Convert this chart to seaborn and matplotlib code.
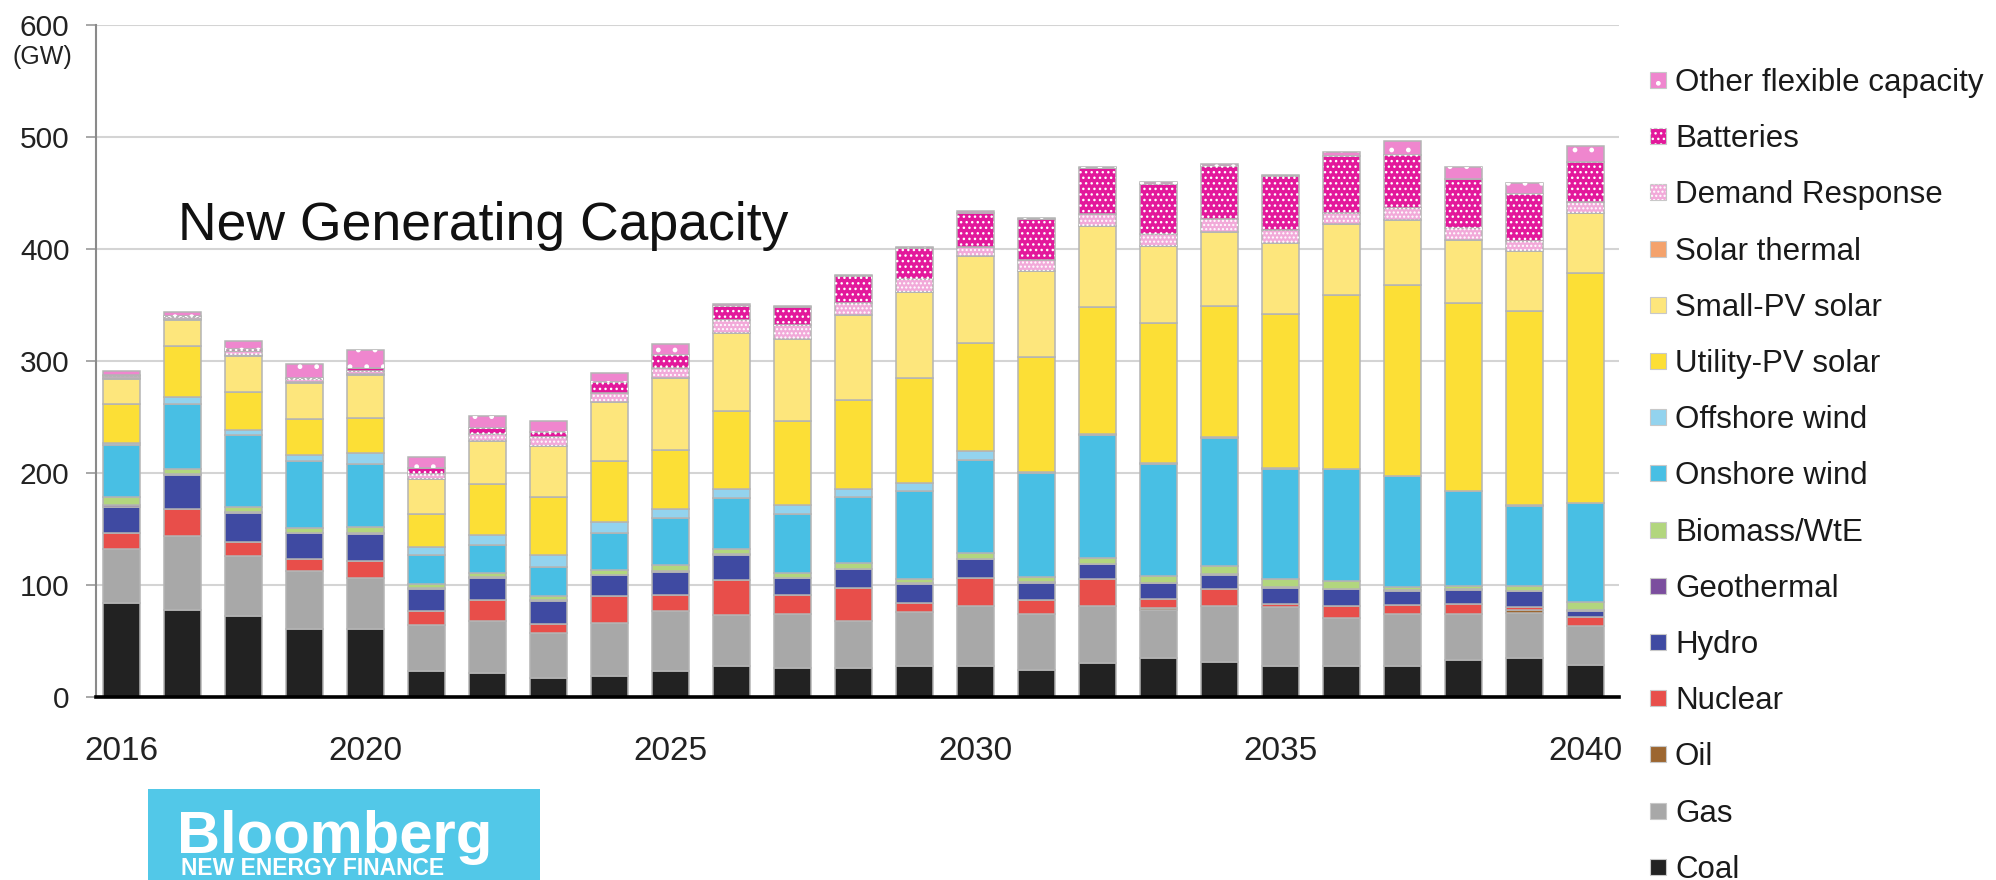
import matplotlib
matplotlib.use("Agg")
import numpy as np
import pandas as pd
import matplotlib.pyplot as plt
from matplotlib.patches import Rectangle
import seaborn as sns

# ---- data (GW of new capacity per year) ----
years = list(range(2016, 2041))
coal = [84, 78, 72, 61, 61, 23, 21, 17, 19, 23, 28, 25.5, 26, 28, 28, 24.5, 30, 35, 31.5, 28, 28, 28, 33, 35, 28.5]
gas = [48, 66, 54, 51.5, 45, 41, 46.5, 40, 47, 54, 45.5, 49, 42, 47.5, 53, 50, 51.5, 42.5, 50, 52.5, 42.5, 46.5, 41, 40, 35]
oil = [0, 0, 0, 0, 0, 0, 0, 0, 0, 0, 0, 0, 0, 0, 0, 0, 0, 2, 0, 0, 0, 0, 0, 3, 0]
nuclear = [14, 24, 12.5, 11, 15, 12.5, 19, 8, 24, 14, 31, 16.5, 29, 8, 25, 12, 24, 8, 14.5, 2.5, 10.5, 7.5, 9, 2.5, 7.5]
hydro = [24, 30, 26, 22.5, 24.5, 20, 20, 21, 18.5, 21, 22.5, 15, 17, 17.5, 17, 15.5, 13, 14, 13, 14.5, 15, 13, 12.5, 14, 6]
geothermal = [1, 1, 1, 0.5, 1, 1, 0.5, 0.5, 0.5, 0.5, 0.5, 0.5, 0.5, 0.5, 0.5, 0.5, 0.5, 0.5, 0.5, 0.5, 0.5, 0.5, 0.5, 0.5, 1]
biomass = [8, 5, 4, 4.5, 5, 3, 4, 4, 4, 5.5, 5, 4, 5.5, 4, 5.5, 5, 5.5, 6, 7.5, 7, 7.5, 3, 3.5, 4, 7]
onshore = [46, 58, 64, 59.5, 56.5, 26, 25, 26, 33.5, 42, 45.5, 52.5, 58.5, 78.5, 83, 92.5, 109, 100, 114.5, 99, 99.5, 98.5, 84, 71.5, 88]
offshore = [2, 6, 5, 5.5, 9.5, 7, 9, 10, 10, 7.5, 7.5, 8, 7.5, 7, 8, 1, 1.5, 0.5, 0.5, 0.5, 0.5, 0.5, 0.5, 0.5, 0.5]
utility_pv = [35, 45, 34, 32, 32, 30, 45.5, 52.5, 54, 53, 69.5, 75.5, 79, 93.5, 96, 103, 113.5, 125.5, 117.5, 137.5, 154.5, 170, 168, 174, 205.5]
small_pv = [22, 24, 32, 32.5, 38, 31, 38, 45, 53, 64, 70, 73.5, 76, 77, 77.5, 76, 72, 69, 65.5, 63, 64, 58, 56, 53, 53]
solar_thermal = [0.5, 0.5, 0.5, 0.5, 0.5, 0, 0, 0, 0, 0, 0, 0, 0, 0, 0, 0, 0, 0, 0, 0, 0, 0, 0, 0, 0]
demand_response = [2, 2, 4, 3, 3.5, 5, 6, 8, 8, 9, 11.5, 12, 11, 12, 8.5, 10, 10.5, 10, 12, 12, 10, 11, 11, 9.5, 10]
batteries = [1, 0.5, 2, 1, 2.5, 5, 6, 4.5, 10, 12, 13, 16.5, 24, 27.5, 30.5, 37, 41, 45, 47.5, 48.5, 50.5, 47, 43.5, 42, 36]
other_flex = [4, 4, 7, 12, 16, 9.5, 10, 10, 7.5, 10, 1, 0.5, 1, 1, 1.5, 1, 1.5, 1.5, 1, 1, 4, 13, 11, 9.5, 14]

tech_names = ["Coal", "Gas", "Oil", "Nuclear", "Hydro", "Geothermal", "Biomass/WtE",
              "Onshore wind", "Offshore wind", "Utility-PV solar", "Small-PV solar",
              "Solar thermal", "Demand Response", "Batteries", "Other flexible capacity"]
tech_colors = ["#222222", "#A8A8A8", "#9C6630", "#E84E4A", "#3F4AA2", "#7B4E9E", "#B2D67E",
               "#48BFE4", "#93D3EE", "#FCDF36", "#FDE67C", "#F4A26C", "#F2A9D9", "#E3189B", "#EF86CE"]
tech_hatch = {"Demand Response": "....", "Batteries": "...", "Other flexible capacity": "."}
tick_years = [2016, 2020, 2025, 2030, 2035, 2040]
y_ticks = [0, 100, 200, 300, 400, 500, 600]

capacity = pd.DataFrame(
    dict(zip(tech_names, [coal, gas, oil, nuclear, hydro, geothermal, biomass, onshore, offshore,
                          utility_pv, small_pv, solar_thermal, demand_response, batteries, other_flex])),
    index=years)

# ---- style ----
sns.set_theme(style="white")
plt.rcParams["font.family"] = ["Liberation Sans", "DejaVu Sans"]
plt.rcParams["hatch.linewidth"] = 1.0
palette = dict(zip(tech_names, sns.color_palette(tech_colors)))

W, H = 1996, 880
fig = plt.figure(figsize=(W / 100, H / 100), dpi=100)
ax = fig.add_axes([96 / W, 1 - 697 / H, (1619 - 96) / W, (697 - 25) / H])

x = np.arange(len(years))
bar_w = 0.6
bottom = np.zeros(len(years))
for name in tech_names:
    vals = capacity[name].to_numpy(dtype=float)
    ax.bar(x, vals, bottom=bottom, width=bar_w, color=palette[name],
           edgecolor="#B4B4B4", linewidth=1.1, zorder=3)
    if name in tech_hatch:
        ax.bar(x, vals, bottom=bottom, width=bar_w, fill=False, edgecolor="white",
               linewidth=0, hatch=tech_hatch[name], zorder=4)
    bottom += vals

# ---- axes ----
ax.set_xlim(-0.42, 24.55)
ax.set_ylim(0, 600)
ax.set_yticks(y_ticks)
ax.set_yticklabels([str(v) for v in y_ticks], fontsize=21.5, color="#222222")
ax.set_xticks([years.index(yr) for yr in tick_years])
ax.set_xticklabels([str(yr) for yr in tick_years], fontsize=24, color="#222222")
ax.tick_params(axis="y", length=7, width=1.2, color="#999999", pad=12, left=True)
ax.tick_params(axis="x", length=0, pad=28)
ax.grid(axis="y", color="#D4D4D4", linewidth=1.5, zorder=0)
ax.grid(axis="x", visible=False)
ax.set_axisbelow(True)
sns.despine(ax=ax, top=True, right=True)
ax.spines["left"].set_color("#8A8A8A")
ax.spines["left"].set_linewidth(1.5)
ax.spines["bottom"].set_color("black")
ax.spines["bottom"].set_linewidth(2.6)
ax.spines["bottom"].set_zorder(5)

fig.text(42 / W, 1 - 57 / H, "(GW)", fontsize=18, color="#222222", ha="center", va="center")
fig.text(178 / W, 1 - 240 / H, "New Generating Capacity", fontsize=38.5, color="#111111",
         ha="left", va="baseline")

# ---- legend (top entry = top of the stack) ----
row0, row_step = 80, 56.2
for k, name in enumerate(reversed(tech_names)):
    yc = row0 + row_step * k
    sq = Rectangle((1650 / W, 1 - (yc + 8) / H), 16 / W, 16 / H, transform=fig.transFigure,
                   facecolor=palette[name], edgecolor="#C8C8C8", linewidth=0.8)
    fig.patches.append(sq)
    if name in tech_hatch:
        fig.patches.append(Rectangle((1650 / W, 1 - (yc + 8) / H), 16 / W, 16 / H,
                                     transform=fig.transFigure, fill=False, edgecolor="white",
                                     linewidth=0, hatch=tech_hatch[name]))
    fig.text(1675 / W, 1 - (yc + 11) / H, name, fontsize=22.5, color="#1A1A1A",
             ha="left", va="baseline")

# ---- brand box ----
fig.patches.append(Rectangle((148 / W, 0), (540 - 148) / W, (880 - 789) / H,
                             transform=fig.transFigure, facecolor="#52C8E8", edgecolor="none"))
fig.text(177 / W, 1 - 853 / H, "Bloomberg", fontsize=43, fontweight="bold", color="white",
         ha="left", va="baseline")
fig.text(181 / W, 1 - 875 / H, "NEW ENERGY FINANCE", fontsize=16.5, fontweight="bold",
         color="white", ha="left", va="baseline")

fig.savefig("out.png", dpi=100, facecolor="white")
